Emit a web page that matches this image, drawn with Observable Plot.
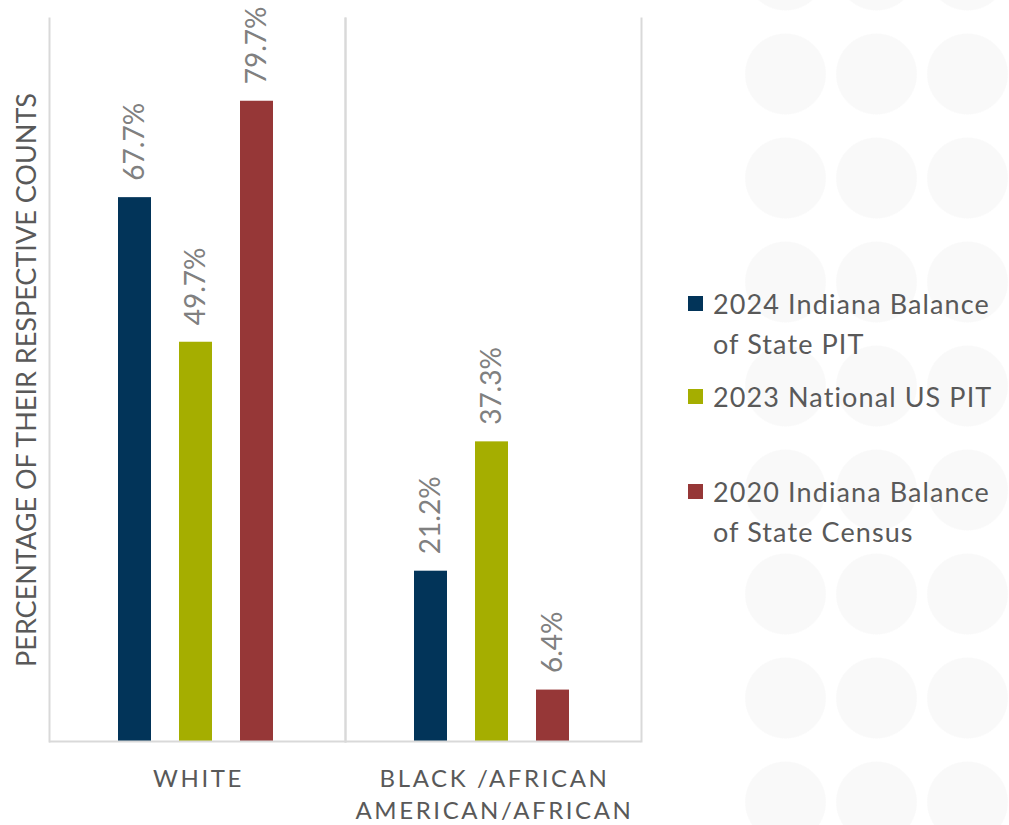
<!DOCTYPE html>
<html>
<head>
<meta charset="utf-8">
<script src="https://cdn.jsdelivr.net/npm/d3@7"></script>
<script src="https://cdn.jsdelivr.net/npm/@observablehq/plot@0.6"></script>
<style>
  html, body { margin: 0; padding: 0; background: #fff; }
  body { width: 1009px; height: 825px; position: relative; overflow: hidden; font-family: Lato, "Open Sans", sans-serif; }
  #dots {
    position: absolute; left: 740px; top: 0; width: 269px; height: 825px;
    background-image: radial-gradient(circle 41px at 45.5px 52px, #f9f9f9 97%, rgba(249,249,249,0) 100%);
    background-size: 91px 104px;
    background-position: 0 22px;
  }
  #chart { position: absolute; left: 0; top: 0; }
  #legend { position: absolute; left: 688px; top: 0; color: #595959; font-size: 27px; line-height: 40px; letter-spacing: 1.1px; }
  .item { position: absolute; left: 0; width: 320px; }
  .sw { position: absolute; left: 0; width: 15px; height: 15px; top: 12px; }
  .lbl { position: absolute; left: 25px; width: 290px; }
</style>
</head>
<body>
<div id="dots"></div>
<div id="chart"></div>
<div id="legend"></div>
<script>
const groups = ["WHITE", "BLACK /AFRICAN\nAMERICAN/AFRICAN"];
const series = ["2024 Indiana Balance of State PIT", "2023 National US PIT", "2020 Indiana Balance of State Census"];
const colors = ["#023459", "#a5ae00", "#963737"];
const values2024 = [67.7, 21.2];
const values2023 = [49.7, 37.3];
const values2020 = [79.7, 6.4];
const yTitle = "PERCENTAGE OF THEIR RESPECTIVE COUNTS";
const legendTops = [284, 377, 472];

const seriesValues = [values2024, values2023, values2020];
const data = [];
groups.forEach((g, gi) => {
  series.forEach((s, si) => {
    data.push({group: g, series: s, value: seriesValues[si][gi]});
  });
});

const chart = Plot.plot({
  width: 660,
  height: 825,
  marginLeft: 48,
  marginRight: 19,
  marginTop: 18,
  marginBottom: 84,
  style: {fontFamily: "Lato, 'Open Sans', sans-serif", background: "transparent"},
  fx: {domain: groups, padding: 0, axis: null},
  x: {domain: series, paddingInner: 0.465, paddingOuter: 1.15, align: 0.487, axis: null},
  y: {domain: [0, 90]},
  color: {domain: series, range: colors},
  marks: [
    Plot.frame({anchor: "left", stroke: "#d9d9d9", strokeWidth: 2}),
    Plot.frame({anchor: "right", stroke: "#d9d9d9", strokeWidth: 2}),
    Plot.barY(data, {fx: "group", x: "series", y: "value", fill: "series"}),
    Plot.ruleY([0], {stroke: "#d9d9d9", strokeWidth: 2}),
    Plot.text(data, {
      fx: "group", x: "series", y: "value",
      text: d => d.value.toFixed(1) + "%",
      rotate: -90, textAnchor: "start", lineAnchor: "middle",
      dy: -17, fontSize: 28, fill: "#808080"
    }),
    Plot.text(groups, {
      fx: d => d, text: d => d,
      frameAnchor: "bottom", lineAnchor: "top", dy: 23,
      lineHeight: 1.33, fontSize: 24, fill: "#595959", dx: 1
    }),
    Plot.axisY({
      ticks: [], tickSize: 0, label: yTitle, labelAnchor: "center",
      labelArrow: "none", labelOffset: 33, fontSize: 27, color: "#595959"
    })
  ]
});
const flatGroups = groups.map(g => g.replace(/\n/g, ""));
d3.select(chart).selectAll("text")
  .filter(function() { return flatGroups.includes(this.textContent); })
  .style("letter-spacing", "2.6px");
document.getElementById("chart").appendChild(chart);

const legend = document.getElementById("legend");
series.forEach((s, i) => {
  const item = document.createElement("div");
  item.className = "item";
  item.style.top = legendTops[i] + "px";
  const sw = document.createElement("div");
  sw.className = "sw";
  sw.style.background = colors[i];
  const lbl = document.createElement("div");
  lbl.className = "lbl";
  lbl.textContent = s;
  item.appendChild(sw);
  item.appendChild(lbl);
  legend.appendChild(item);
});
</script>
</body>
</html>
